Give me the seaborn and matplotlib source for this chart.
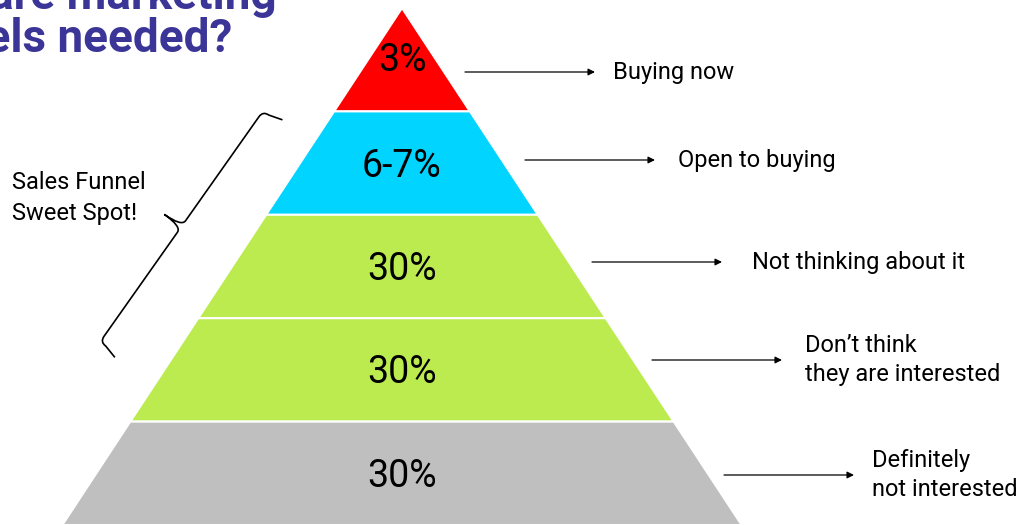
import numpy as np
import matplotlib
matplotlib.use("Agg")
import matplotlib.pyplot as plt
from matplotlib.path import Path
from matplotlib.patches import PathPatch, Polygon
import seaborn as sns

# ---- data ----
levels = ["3%", "6-7%", "30%", "30%", "30%"]
descriptions = ["Buying now", "Open to buying", "Not thinking about it",
                "Don\u2019t think\nthey are interested", "Definitely\nnot interested"]
layer_colors = ["#FF0000", "#00D4FF", "#BCEB50", "#BCEB50", "#BFBFBF"]
title_lines = ["Why are marketing", "funnels needed?"]
bracket_label = "Sales Funnel\nSweet Spot!"

sns.set_theme(style="white")
plt.rcParams['font.family'] = ['Roboto', 'DejaVu Sans']

W, H = 1024, 525
fig = plt.figure(figsize=(W / 100, H / 100), dpi=100)
ax = fig.add_axes([0, 0, 1, 1])
ax.set_xlim(0, W)
ax.set_ylim(H, 0)
ax.axis("off")

# pyramid geometry (pixel-like coordinates)
cx, apex_y, base_y = 402, 8, 525
slope = 0.657
n = len(levels)
lh = (base_y - apex_y) / n

def half(y):
    return slope * (y - apex_y)

for i, (lab, col) in enumerate(zip(levels, layer_colors)):
    y0 = apex_y + i * lh
    y1 = y0 + lh
    pts = [(cx - half(y0), y0), (cx + half(y0), y0), (cx + half(y1), y1), (cx - half(y1), y1)]
    ax.add_patch(Polygon(pts, closed=True, facecolor=col, edgecolor="white", lw=1.5, zorder=2))
    ax.text(cx, (y0 + y1) / 2 + (1 if i == 0 else 3), lab, ha="center", va="center",
            fontsize=27, color="black", zorder=3)

# arrows & descriptions
arrow_y = [72, 160, 262, 360, 475]
arrow_x0 = [465, 525, 592, 652, 724]
arrow_len = 130
text_x = [613, 678, 752, 805, 872]
for desc, ay, ax0, tx in zip(descriptions, arrow_y, arrow_x0, text_x):
    ax.annotate("", xy=(ax0 + arrow_len, ay), xytext=(ax0, ay),
                arrowprops=dict(arrowstyle="-|>", color="black", lw=0.9, mutation_scale=10,
                                shrinkA=0, shrinkB=0))
    ax.text(tx, ay, desc, ha="left", va="center", fontsize=17, linespacing=1.3, color="black")

# curly brace along the left side
def brace(c0, c1, h_end=21, h_mid=21, r=7, flare=4):
    c0 = np.array(c0, float); c1 = np.array(c1, float)
    d = c1 - c0
    L = np.hypot(*d)
    u = d / L
    nrm = np.array([-u[1], u[0]])
    if nrm[0] > 0:
        nrm = -nrm
    P = lambda t, s: c0 + t * u + s * nrm
    m = L / 2
    verts = [P(-flare, -h_end), P(0, -r), P(0, 0), P(r, 0),
             P(m - r, 0), P(m, 0), P(m, h_mid),
             P(m, 0), P(m + r, 0),
             P(L - r, 0), P(L, 0), P(L, -r), P(L + flare, -h_end)]
    codes = [Path.MOVETO, Path.LINETO, Path.CURVE3, Path.CURVE3,
             Path.LINETO, Path.CURVE3, Path.CURVE3,
             Path.CURVE3, Path.CURVE3,
             Path.LINETO, Path.CURVE3, Path.CURVE3, Path.LINETO]
    return Path(verts, codes)

ax.add_patch(PathPatch(brace((263, 111), (100, 342)), facecolor="none", edgecolor="black", lw=1.2, zorder=4))
ax.text(12, 198, bracket_label, ha="left", va="center", fontsize=17, linespacing=1.4, color="black")

# title (partially cut off, as in the reference)
title_color = "#3B3597"
ax.text(277, 9, title_lines[0], ha="right", va="baseline", fontsize=33, fontweight="bold", color=title_color)
ax.text(232, 52, title_lines[1], ha="right", va="baseline", fontsize=33, fontweight="bold", color=title_color)

fig.savefig("out.png", dpi=100)
